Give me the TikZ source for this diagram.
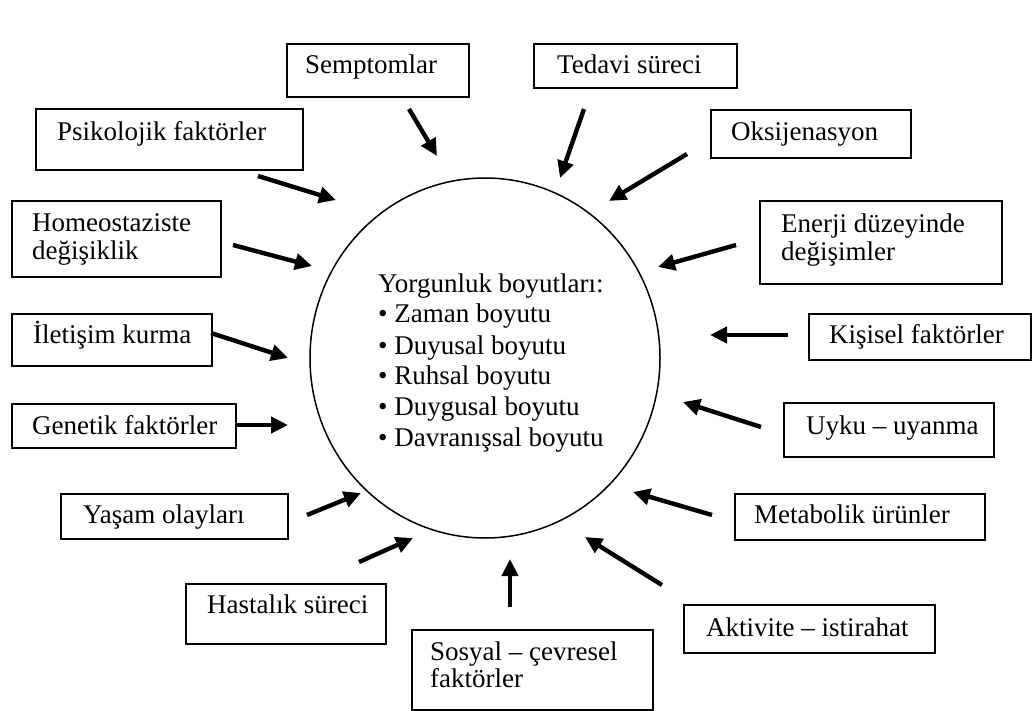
\documentclass[tikz,border=0pt]{standalone}
\usepackage{fontspec}
\setmainfont{Liberation Serif}
\usetikzlibrary{arrows.meta,shapes.geometric}
\begin{document}
\begin{tikzpicture}[x=1pt,y=-1pt,
  frame/.style={draw, line width=1.8pt, inner sep=0pt, anchor=north west},
  lbl/.style={anchor=base west, inner sep=0pt, font=\fontsize{27}{29}\selectfont},
  arr/.style={line width=4.4pt, -{Triangle[length=17pt,width=16pt]}},
  ring/.style={draw, ellipse, line width=1.5pt, inner sep=0pt}]
\useasboundingbox[fill=white] (0,0) rectangle (1033,711);

% central ellipse
\node[ring, minimum width=350pt, minimum height=360pt] (circ) at (485,358) {};
\node[lbl] (c0) at (378,293) {Yorgunluk boyutları:};
\node[lbl] (c1) at (378,323) {•\ Zaman boyutu};
\node[lbl] (c2) at (378,354) {•\ Duyusal boyutu};
\node[lbl] (c3) at (378,384) {•\ Ruhsal boyutu};
\node[lbl] (c4) at (378,415) {•\ Duygusal boyutu};
\node[lbl] (c5) at (378,446) {•\ Davranışsal boyutu};

% boxes
\node[frame, minimum width=182pt, minimum height=53pt] (semB) at (286,43) {};
\node[lbl] (sem) at (305,74) {Semptomlar};

\node[frame, minimum width=203pt, minimum height=44pt] (tedB) at (533,43) {};
\node[lbl] (ted) at (557,74) {Tedavi süreci};

\node[frame, minimum width=267pt, minimum height=61pt] (psiB) at (35,108) {};
\node[lbl] (psi) at (57,141) {Psikolojik faktörler};

\node[frame, minimum width=209pt, minimum height=76pt] (homB) at (11,200) {};
\node[lbl] (hom1) at (32,232) {Homeostaziste};
\node[lbl] (hom2) at (32,260) {değişiklik};

\node[frame, minimum width=200pt, minimum height=48pt] (oksB) at (710,109) {};
\node[lbl] (oks) at (731,141) {Oksijenasyon};

\node[frame, minimum width=242pt, minimum height=83pt] (eneB) at (759,200) {};
\node[lbl] (ene1) at (781,233) {Enerji düzeyinde};
\node[lbl] (ene2) at (781,261) {değişimler};

\node[frame, minimum width=200pt, minimum height=52pt] (iletB) at (11,313) {};
\node[lbl] (ilet) at (33,343) {İletişim kurma};

\node[frame, minimum width=224pt, minimum height=44pt] (genB) at (11,403) {};
\node[lbl] (gen) at (32,434) {Genetik faktörler};

\node[frame, minimum width=227pt, minimum height=45pt] (yasB) at (60,493) {};
\node[lbl] (yas) at (83,523) {Yaşam olayları};

\node[frame, minimum width=200pt, minimum height=60pt] (hasB) at (185,583) {};
\node[lbl] (has) at (207,613) {Hastalık süreci};

\node[frame, minimum width=222pt, minimum height=46pt] (kisB) at (808,313) {};
\node[lbl] (kis) at (829,343) {Kişisel faktörler};

\node[frame, minimum width=210pt, minimum height=54pt] (uykB) at (783,402) {};
\node[lbl] (uyk) at (806,434) {Uyku – uyanma};

\node[frame, minimum width=250pt, minimum height=46pt] (metB) at (734,493) {};
\node[lbl] (met) at (754,523) {Metabolik ürünler};

\node[frame, minimum width=251pt, minimum height=48pt] (aktB) at (683,604) {};
\node[lbl] (akt) at (706,636) {Aktivite – istirahat};

\node[frame, minimum width=241pt, minimum height=80pt] (sosB) at (411,629) {};
\node[lbl] (sos1) at (430,660) {Sosyal – çevresel};
\node[lbl] (sos2) at (430,687) {faktörler};

% arrow end points
\coordinate (semS) at (409,109); \coordinate (semT) at (437,156);
\coordinate (tedS) at (584,109); \coordinate (tedT) at (560,178);
\coordinate (oksS) at (687,154); \coordinate (oksT) at (609,201);
\coordinate (eneS) at (736,245); \coordinate (eneT) at (658,267);
\coordinate (kisS) at (788,335); \coordinate (kisT) at (710,335);
\coordinate (uykS) at (761,427); \coordinate (uykT) at (683,402);
\coordinate (metS) at (712,515); \coordinate (metT) at (633,492);
\coordinate (aktS) at (662,585); \coordinate (aktT) at (585,537);
\coordinate (sosS) at (510,607); \coordinate (sosT) at (510,559);
\coordinate (hasS) at (359,562); \coordinate (hasT) at (413,538);
\coordinate (yasS) at (307,515); \coordinate (yasT) at (361,493);
\coordinate (genS) at (235,425); \coordinate (genT) at (288,425);
\coordinate (iletS) at (211,333); \coordinate (iletT) at (288,358);
\coordinate (homS) at (233,245); \coordinate (homT) at (312,266);
\coordinate (psiS) at (258,176); \coordinate (psiT) at (336,200);

\foreach \n in {sem,ted,oks,ene,kis,uyk,met,akt,sos,has,yas,gen,ilet,hom,psi}
  \draw[arr] (\n S) -- (\n T);
\end{tikzpicture}
\end{document}
